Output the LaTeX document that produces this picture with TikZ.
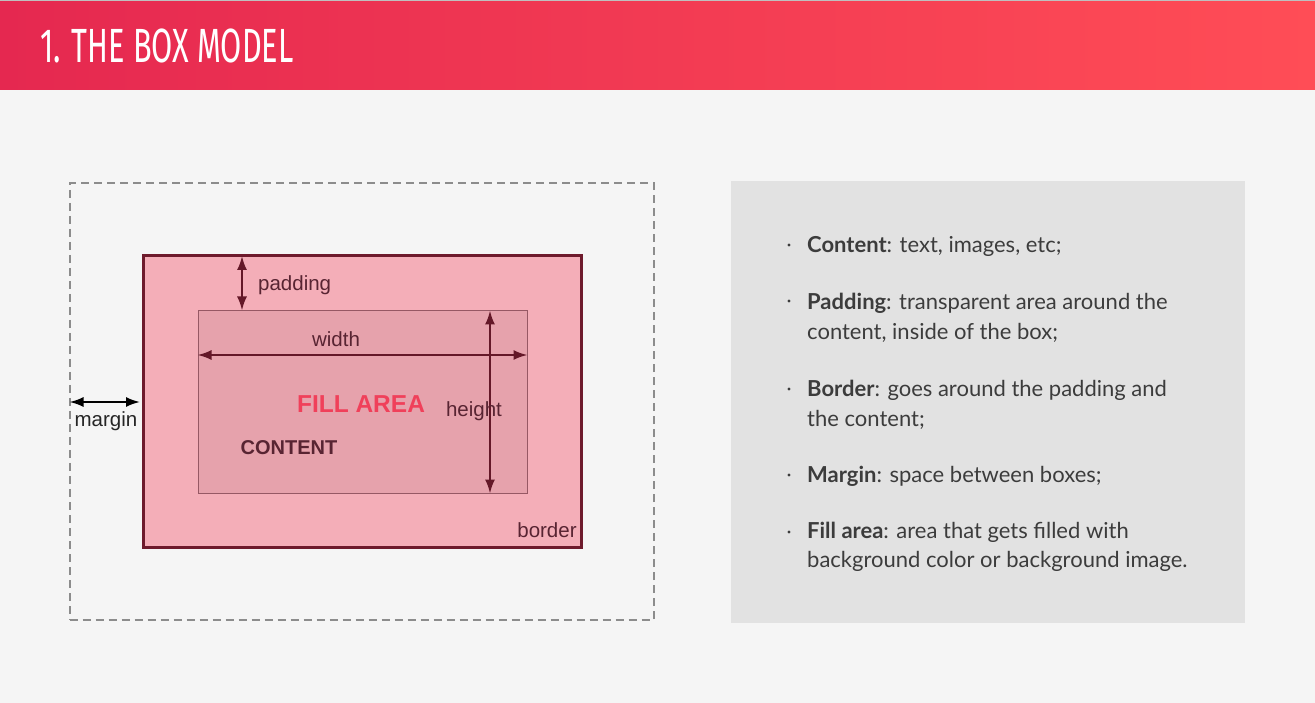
\documentclass[tikz,border=0pt]{standalone}
\usepackage{fontspec}
\setmainfont{Liberation Sans}
\newfontfamily\notefont{Lato}
\newfontfamily\titlefont[FakeStretch=0.64]{Fira Sans}
\usetikzlibrary{positioning,arrows.meta}
\tikzset{dimtip/.tip={Latex[length=14pt,width=10pt]}}
\definecolor{hdl}{RGB}{229,40,80}
\definecolor{hdr}{RGB}{255,77,86}
\definecolor{bgc}{RGB}{245,245,245}
\definecolor{pnl}{RGB}{226,226,226}
\definecolor{bdf}{RGB}{244,174,184}
\definecolor{bdl}{RGB}{110,26,44}
\definecolor{ctf}{RGB}{230,162,172}
\definecolor{ctl}{RGB}{150,88,100}
\definecolor{mrn}{RGB}{100,24,40}
\definecolor{lbl}{RGB}{88,36,50}
\definecolor{fil}{RGB}{240,64,90}
\definecolor{ntc}{RGB}{60,60,60}
\tikzset{
  mgbox/.style={draw=gray!90, line width=2pt, dash pattern=on 8pt off 5pt, inner sep=0pt},
  bdbox/.style={draw=bdl, fill=bdf, line width=3pt, inner sep=0pt},
  ctbox/.style={draw=ctl, fill=ctf, line width=1pt, inner sep=0pt},
  dimarrow/.style={dimtip-dimtip, mrn, line width=2pt},
  dimlabel/.style={text=lbl, inner sep=0pt, font=\fontsize{20.5}{24}\selectfont},
  notetext/.style={text=ntc, inner sep=0pt, align=left, anchor=base west,
    font=\notefont\fontsize{22}{29.5}\selectfont},
}
\begin{document}
\begin{tikzpicture}[x=1pt, y=-1pt]
    \useasboundingbox (0,0) rectangle (1315,703);
    \fill[bgc] (0,0) rectangle (1315,703);
    \shade[left color=hdl, right color=hdr] (0,0) rectangle (1315,90);
    \draw[gray!50, line width=1.5pt] (0,0.75) -- (1315,0.75);
    \node[anchor=west, text=white, inner sep=0pt] (title) at (40,46)
        {\titlefont\fontsize{48}{48}\selectfont 1. THE BOX MODEL};
    % the box model
    \node[mgbox, minimum width=584pt, minimum height=437pt] (margin) at (361.5,401.5) {};
    \node[bdbox, minimum width=438pt, minimum height=291pt] (border) at (362,401.5) {};
    \node[ctbox, minimum width=329pt, minimum height=182pt] (content) at (362.5,402) {};
    \coordinate (padx) at (242,0);
    \coordinate (widy) at (0,355);
    \coordinate (heix) at (490,0);
    \coordinate (mary) at (0,402);
    \draw[dimarrow] ([yshift=-1.5pt]border.north -| padx) -- (content.north -| padx);
    \draw[dimarrow] (content.west |- widy) -- (content.east |- widy);
    \draw[dimarrow] (content.north -| heix) -- (content.south -| heix);
    \draw[dimarrow, black] ([xshift=1pt]margin.west |- mary) -- ([xshift=-1.5pt]border.west |- mary);
    \node[dimlabel, anchor=west] (padding) at (258,285) {padding};
    \node[dimlabel] (width) at (336,339) {width};
    \node[dimlabel] (height) at (474,411) {height};
    \node[dimlabel, text=black!85] (marginlbl) at (106,421) {margin};
    \node[dimlabel] (borderlbl) at (547,530) {border};
    \node[text=fil, inner sep=0pt, font=\bfseries\fontsize{24.5}{28}\selectfont] (fill) at (361,404) {FILL AREA};
    \node[text=lbl, inner sep=0pt, font=\bfseries\fontsize{20}{24}\selectfont] (contentlbl) at (289,448) {CONTENT};
    % notes
    \node[fill=pnl, minimum width=514pt, minimum height=442pt, anchor=north west, inner sep=0pt] (panel) at (731,181) {};
    \foreach \y in {245,301,389,475,532}
        \fill[ntc] (789,\y) circle (1.6pt);
    \node[notetext] (n1) at (807,253) {\textbf{Content}: text, images, etc;};
    \node[notetext] (n2) at (807,339.5) {\textbf{Padding}: transparent area around the\\content, inside of the box;};
    \node[notetext] (n3) at (807,426) {\textbf{Border}: goes around the padding and\\the content;};
    \node[notetext] (n4) at (807,482) {\textbf{Margin}: space between boxes;};
    \node[notetext] (n5) at (807,567.5) {\textbf{Fill area}: area that gets filled with\\background color or background image.};
\end{tikzpicture}
\end{document}
